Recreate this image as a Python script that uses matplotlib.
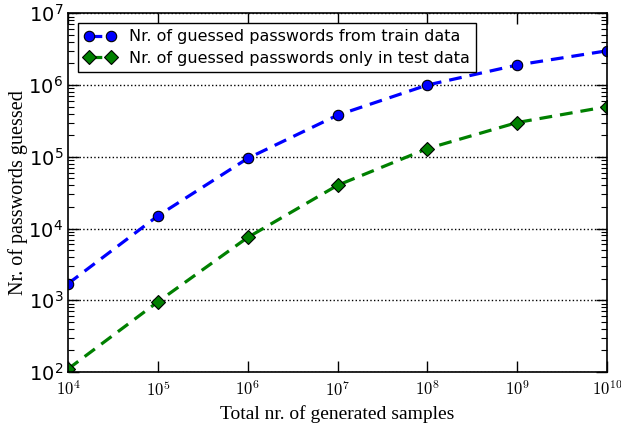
import math
import matplotlib
matplotlib.use("Agg")
import matplotlib.pyplot as plt
from matplotlib.ticker import FuncFormatter, LogLocator, NullFormatter

samples = [1e4, 1e5, 1e6, 1e7, 1e8, 1e9, 1e10]
train_guessed = [1.7e3, 1.5e4, 9.5e4, 3.8e5, 1.0e6, 1.9e6, 3.0e6]
test_guessed = [1.1e2, 9.5e2, 7.5e3, 4.0e4, 1.3e5, 3.0e5, 5.0e5]
label_train = "Nr. of guessed passwords from train data"
label_test = "Nr. of guessed passwords only in test data"

fig = plt.figure(figsize=(6.21, 4.23), dpi=100)
ax = fig.add_axes([0.1095, 0.1206, 0.868, 0.848])

ax.plot(samples, train_guessed, linestyle="--", color="blue", linewidth=2.3,
        marker="o", markersize=7.5, markerfacecolor="blue", markeredgecolor="black",
        markeredgewidth=0.8, label=label_train, dashes=(4, 2.5))
ax.plot(samples, test_guessed, linestyle="--", color="green", linewidth=2.3,
        marker="D", markersize=7, markerfacecolor="green", markeredgecolor="black",
        markeredgewidth=0.8, label=label_test, dashes=(4, 2.5))

ax.set_xscale("log")
ax.set_yscale("log")
ax.set_xlim(1e4, 1e10)
ax.set_ylim(1e2, 1e7)

ax.xaxis.set_major_locator(LogLocator(base=10, numticks=20))
ax.xaxis.set_minor_locator(LogLocator(base=10, subs=(), numticks=20))
ax.yaxis.set_major_locator(LogLocator(base=10, numticks=20))
ax.yaxis.set_minor_locator(LogLocator(base=10, subs=range(2, 10), numticks=20))
ax.xaxis.set_minor_formatter(NullFormatter())
ax.yaxis.set_minor_formatter(NullFormatter())

fmt = FuncFormatter(lambda v, p: r"$10^{%d}$" % round(math.log10(v)))
ax.xaxis.set_major_formatter(fmt)
ax.yaxis.set_major_formatter(fmt)

ax.tick_params(which="both", direction="in", top=True, right=True)
ax.tick_params(which="major", length=8, width=1)
ax.tick_params(which="minor", length=4, width=0.8)
ax.tick_params(axis="x", which="major", pad=6)

for t in ax.get_xticklabels():
    t.set_math_fontfamily("cm")
    t.set_fontsize(12)
for t in ax.get_yticklabels():
    t.set_math_fontfamily("dejavusans")
    t.set_fontsize(14)

ax.yaxis.grid(True, which="major", linestyle=":", color="black", linewidth=1)

for s in ax.spines.values():
    s.set_linewidth(1.2)

ax.set_xlabel("Total nr. of generated samples", family="Liberation Serif", fontsize=14)
ax.set_ylabel("Nr. of passwords guessed", family="Liberation Serif", fontsize=14.5,
              labelpad=0)

leg = ax.legend(loc="upper left", numpoints=2, fancybox=False, framealpha=1,
                edgecolor="black", prop={"family": "DejaVu Sans", "size": 11.5},
                handlelength=2, borderaxespad=0.6, labelspacing=0.4)
leg.get_frame().set_linewidth(1.0)

fig.savefig("out.png", dpi=100)
